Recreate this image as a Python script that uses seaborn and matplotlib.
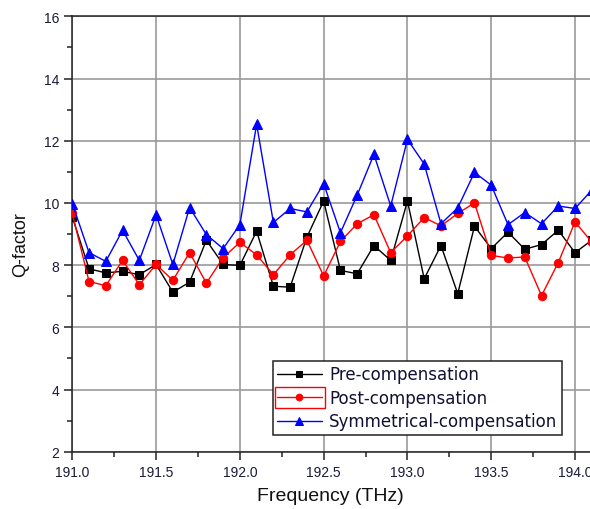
import numpy as np
import pandas as pd
import matplotlib
matplotlib.use("Agg")
import matplotlib.pyplot as plt
import seaborn as sns
from matplotlib.ticker import MultipleLocator
from matplotlib.patches import Rectangle
from matplotlib.transforms import IdentityTransform

freq = [round(191.0 + 0.1 * i, 1) for i in range(32)]
pre = [9.55, 7.88, 7.75, 7.80, 7.69, 8.02, 7.13, 7.45, 8.80, 8.02,
       7.99, 9.09, 7.32, 7.29, 8.90, 10.06, 7.83, 7.72, 8.63, 8.15,
       10.06, 7.56, 8.63, 7.08, 9.25, 8.53, 9.06, 8.51, 8.66, 9.12,
       8.40, 8.80]
post = [9.66, 7.47, 7.34, 8.15, 7.37, 8.02, 7.51, 8.40, 7.42, 8.24,
        8.73, 8.33, 7.69, 8.33, 8.80, 7.65, 8.76, 9.33, 9.62, 8.40,
        8.94, 9.53, 9.26, 9.66, 10.00, 8.31, 8.23, 8.26, 7.02, 8.08,
        9.39, 8.74]
sym = [9.98, 8.40, 8.12, 9.12, 8.15, 9.62, 8.02, 9.85, 8.98, 8.53,
       9.30, 12.53, 9.37, 9.82, 9.71, 10.62, 9.04, 10.25, 11.56, 9.90,
       12.04, 11.25, 9.33, 9.84, 10.98, 10.57, 9.30, 9.69, 9.33, 9.90,
       9.82, 10.41]
labels = ["Pre-compensation", "Post-compensation", "Symmetrical-compensation"]

sns.set_style("white")
plt.rcParams["font.family"] = ["Liberation Sans", "DejaVu Sans"]

fig = plt.figure(figsize=(5.9, 5.1), dpi=100)
W, H = 590, 510
x0, y0, ytop = 72.3, 452.7, 17.3
ax = fig.add_axes([x0 / W, (H - y0) / H, 553 / W, (y0 - ytop) / H])

styles = [("black", "s", 6), ("#ff0000", "o", 6), ("#0000ff", "^", 7)]
for vals, lab, (c, m, ms) in zip([pre, post, sym], labels, styles):
    df = pd.DataFrame({"Frequency": freq, "Q": vals})
    sns.lineplot(data=df, x="Frequency", y="Q", ax=ax, color=c, marker=m,
                 markersize=ms, markeredgecolor=c, linewidth=1.0, label=lab,
                 zorder=3)

ax.set_xlim(191.0, 194.3)
ax.set_ylim(2, 16)
ax.xaxis.set_major_locator(MultipleLocator(0.5))
ax.xaxis.set_minor_locator(MultipleLocator(0.25))
ax.yaxis.set_major_locator(MultipleLocator(2))
ax.yaxis.set_minor_locator(MultipleLocator(1))
ax.xaxis.set_major_formatter(matplotlib.ticker.FormatStrFormatter("%.1f"))
ax.grid(True, which="major", color="#9a9a9a", linewidth=1.2, zorder=0)
ax.set_axisbelow(True)
ax.tick_params(which="major", direction="out", length=6, width=1.1,
               labelsize=10, color="#222222", labelcolor="#1a1a3a",
               bottom=True, left=True)
ax.tick_params(which="minor", direction="out", length=3.5, width=1.1,
               color="#222222", bottom=True, left=True)
for s in ax.spines.values():
    s.set_color("#222222")
    s.set_linewidth(1.1)

ax.set_xlabel("Frequency (THz)", fontsize=14, color="#111111")
ax.set_ylabel("Q-factor", fontsize=13, color="#111111")
ax.xaxis.set_label_coords(330 / W, 13 / H, transform=fig.transFigure)
ax.yaxis.set_label_coords(21 / W, (H - 245) / H, transform=fig.transFigure)
ax.xaxis.label.set_verticalalignment("center")
ax.yaxis.label.set_verticalalignment("center")

leg = ax.legend(loc="upper left", bbox_to_anchor=(272.7 / W, (H - 362.3) / H),
                bbox_transform=fig.transFigure, borderaxespad=0,
                prop={"family": ["DejaVu Sans"], "size": 12},
                frameon=True, fancybox=False, framealpha=1,
                edgecolor="#222222", handlelength=2.7, handletextpad=0.45,
                borderpad=0.25, labelspacing=0.33, markerscale=0.8)
leg.get_frame().set_linewidth(1.1)
for t in leg.get_texts():
    t.set_color("#111133")

# red box around the Post-compensation legend key, as in the reference
fig.canvas.draw()
h = leg.legend_handles[1]
bb = h.get_window_extent(fig.canvas.get_renderer())
yc = (bb.y0 + bb.y1) / 2
rect = Rectangle((bb.x0 + 1, yc - 10.5), (bb.x1 - bb.x0) - 1, 21,
                 transform=IdentityTransform(), fill=False,
                 edgecolor="#ff0000", linewidth=1.0, zorder=10)
fig.add_artist(rect)

fig.savefig("out.png", dpi=100)
